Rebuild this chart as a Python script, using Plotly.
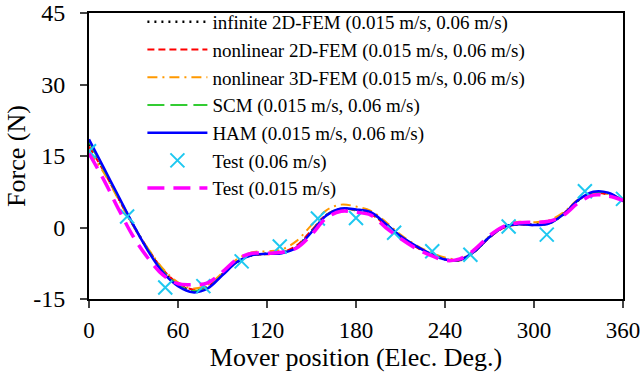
import plotly.graph_objects as go

pos = list(range(0, 361, 10))

fem_inf = [17.5, 12.0, 6.2, 0.4, -4.8, -9.2, -12.0, -13.2, -12.5, -9.8, -7.2, -5.8, -5.5, -5.3, -4.0, -0.8, 2.6, 3.9, 3.7, 3.0, 0.7, -1.9, -3.9, -5.5, -6.6, -6.8, -5.0, -2.0, 0.1, 0.7, 0.6, 0.9, 2.8, 5.7, 7.3, 7.1, 5.6]
fem_nl2 = [17.0, 11.8, 6.0, 0.3, -4.6, -8.9, -11.7, -13.0, -12.4, -9.8, -7.1, -5.8, -5.6, -5.2, -3.8, -0.6, 2.7, 3.9, 3.6, 2.8, 0.5, -2.0, -4.0, -5.6, -6.7, -6.9, -5.1, -2.1, 0.0, 0.6, 0.5, 1.0, 3.0, 5.8, 7.2, 6.9, 5.5]
fem_nl3 = [16.0, 11.5, 5.8, 0.2, -4.5, -8.7, -11.5, -12.8, -12.0, -9.5, -6.6, -5.2, -5.0, -4.6, -2.8, 0.5, 3.6, 4.8, 4.4, 3.5, 1.2, -1.5, -3.6, -5.2, -6.3, -6.6, -4.9, -1.8, 0.4, 1.2, 1.1, 1.5, 3.2, 5.9, 7.1, 7.0, 5.6]
scm = [18.0, 12.2, 6.3, 0.5, -4.8, -9.2, -12.0, -13.3, -12.6, -9.9, -7.2, -5.8, -5.5, -5.3, -4.1, -0.9, 2.6, 3.9, 3.7, 3.1, 0.8, -1.8, -3.8, -5.4, -6.6, -6.8, -5.0, -2.0, 0.2, 0.7, 0.5, 0.8, 2.8, 5.8, 7.4, 7.2, 5.6]
ham = [18.5, 12.5, 6.5, 0.5, -5.0, -9.5, -12.3, -13.6, -12.8, -10.0, -7.2, -5.8, -5.5, -5.4, -4.2, -1.0, 2.5, 4.0, 3.8, 3.2, 0.8, -1.8, -3.8, -5.5, -6.7, -6.8, -5.0, -2.0, 0.2, 0.7, 0.5, 0.8, 2.8, 5.8, 7.5, 7.3, 5.5]
test_015 = [15.5, 10.0, 3.8, -2.0, -6.5, -10.0, -11.8, -12.0, -11.6, -9.3, -6.6, -5.4, -5.4, -5.2, -4.3, -1.5, 2.0, 3.4, 3.2, 2.6, 0.0, -2.3, -4.3, -5.8, -6.9, -6.6, -4.6, -1.7, 0.3, 1.0, 1.1, 1.3, 2.6, 5.2, 6.8, 6.6, 5.7]

test_pos = [0, 25.7, 51.4, 77.1, 102.9, 128.6, 154.3, 180, 205.7, 231.4, 257.1, 282.9, 308.6, 334.3, 360]
test_006 = [16.0, 2.3, -12.6, -12.3, -7.1, -4.0, 1.9, 2.0, -1.1, -5.0, -5.7, 0.2, -1.5, 7.6, 6.0]

x_ticks = [0, 60, 120, 180, 240, 300, 360]
y_ticks = [-15, 0, 15, 30, 45]
y_tick_text = ["-15", "0", "15", "30", "45"]

FONT = "Liberation Serif, Times New Roman, serif"

fig = go.Figure()
fig.add_trace(go.Scatter(x=pos, y=fem_inf, mode="lines", line=dict(color="black", width=2.5, dash="2px,5px", shape="spline"),
                         name="infinite 2D-FEM (0.015 m/s, 0.06 m/s)"))
fig.add_trace(go.Scatter(x=pos, y=fem_nl2, mode="lines", line=dict(color="#ff0000", width=2, dash="7px,4px", shape="spline"),
                         name="nonlinear 2D-FEM (0.015 m/s, 0.06 m/s)"))
fig.add_trace(go.Scatter(x=pos, y=fem_nl3, mode="lines", line=dict(color="#ff9900", width=2, dash="10px,5px,2px,5px", shape="spline"),
                         name="nonlinear 3D-FEM (0.015 m/s, 0.06 m/s)"))
fig.add_trace(go.Scatter(x=pos, y=scm, mode="lines", line=dict(color="#33cc33", width=2, dash="17px,6px", shape="spline"),
                         name="SCM (0.015 m/s, 0.06 m/s)"))
fig.add_trace(go.Scatter(x=pos, y=ham, mode="lines", line=dict(color="#0000ff", width=2.5, shape="spline"),
                         name="HAM (0.015 m/s, 0.06 m/s)"))
fig.add_trace(go.Scatter(x=test_pos, y=test_006, mode="markers",
                         marker=dict(symbol="x-thin", size=14, line=dict(color="#1ec8f0", width=2)),
                         name="Test (0.06 m/s)"))
fig.add_trace(go.Scatter(x=pos, y=test_015, mode="lines", line=dict(color="#ff00ff", width=3.5, dash="17px,9px", shape="spline"),
                         name="Test (0.015 m/s)"))

fig.update_layout(
    width=643, height=376,
    margin=dict(l=89, r=20, t=13, b=77, autoexpand=False),
    paper_bgcolor="white", plot_bgcolor="white",
    font=dict(family=FONT, size=24, color="black"),
    showlegend=True,
    legend=dict(x=0.1, y=1.035, xanchor="left", yanchor="top", bgcolor="rgba(0,0,0,0)",
                font=dict(family=FONT, size=19), tracegroupgap=0, itemwidth=60),
)
try:
    fig.update_layout(legend_maxheight=1)
except Exception:
    pass
fig.update_xaxes(range=[0, 360], tickvals=x_ticks, ticks="outside", ticklen=7, tickwidth=2,
                 showline=True, linecolor="black", linewidth=2, mirror=True, showgrid=False, zeroline=False,
                 ticklabelstandoff=2, automargin=False,
                 title=dict(text="Mover position (Elec. Deg.)", standoff=0, font=dict(size=26)), tickfont=dict(size=23))
fig.update_yaxes(range=[-15, 45], tickvals=y_ticks, ticktext=y_tick_text, ticks="outside", ticklen=7, tickwidth=2,
                 showline=True, linecolor="black", linewidth=2, mirror=True, showgrid=False, zeroline=False,
                 ticklabelstandoff=10, automargin=False,
                 title=dict(text="Force (N)", standoff=0, font=dict(size=26)), tickfont=dict(size=24))

fig.write_html("out.html")
